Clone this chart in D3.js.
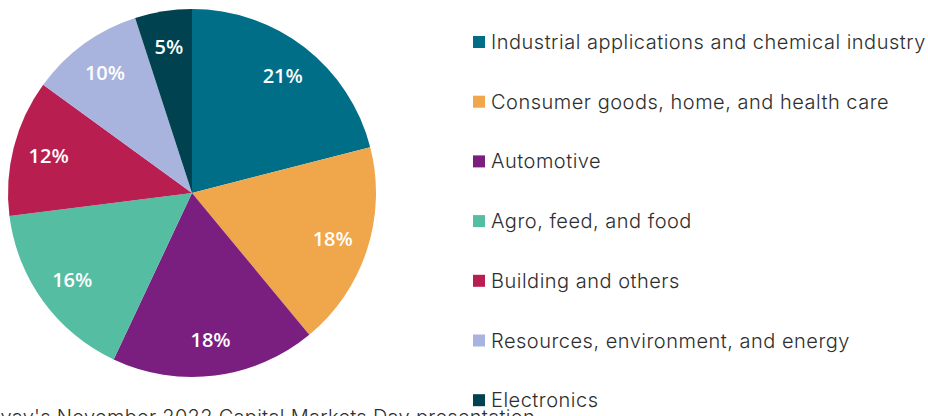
<!DOCTYPE html>
<html>
<head>
<meta charset="utf-8">
<script src="https://cdn.jsdelivr.net/npm/d3@7"></script>
<style>
  html, body { margin: 0; padding: 0; background: #fff; overflow: hidden; }
  svg { display: block; }
</style>
</head>
<body>
<svg id="chart" width="928" height="416"></svg>
<script>
const categories = [
  "Industrial applications and chemical industry",
  "Consumer goods, home, and health care",
  "Automotive",
  "Agro, feed, and food",
  "Building and others",
  "Resources, environment, and energy",
  "Electronics"
];
const values = [21, 18, 18, 16, 12, 10, 5];
const colors = ["#006e87", "#f0a64b", "#7a1f80", "#55bda1", "#b81f50", "#a9b4de", "#00424f"];
const sourceText = "Source: Solvay's November 2022 Capital Markets Day presentation";

const svg = d3.select("#chart");
const cx = 192, cy = 193, R = 184;

const data = categories.map((c, i) => ({ name: c, value: values[i], color: colors[i] }));
const pie = d3.pie().value(d => d.value).sort(null);
const arcs = pie(data);
const arc = d3.arc().innerRadius(0).outerRadius(R);

const g = svg.append("g").attr("transform", `translate(${cx},${cy})`);
g.selectAll("path.slice").data(arcs).join("path")
  .attr("class", "slice")
  .attr("d", arc)
  .attr("fill", d => d.data.color);

const fontLabel = "'Open Sans', 'DejaVu Sans', sans-serif";
g.selectAll("text.lbl").data(arcs).join("text")
  .attr("class", "lbl")
  .attr("transform", d => {
    const a = (d.startAngle + d.endAngle) / 2;
    const r = 148;
    return `translate(${r * Math.sin(a)},${-r * Math.cos(a)})`;
  })
  .attr("text-anchor", "middle")
  .attr("dy", "0.35em")
  .attr("fill", "#ffffff")
  .attr("font-family", fontLabel)
  .attr("font-weight", 600)
  .attr("font-size", 20)
  .text(d => d.data.value + "%");

// Legend
const legendX = 473, legendY0 = 42, legendStep = 59.7;
const leg = svg.append("g");
const items = leg.selectAll("g.item").data(data).join("g")
  .attr("class", "item")
  .attr("transform", (d, i) => `translate(${legendX},${legendY0 + i * legendStep})`);
items.append("rect")
  .attr("x", 0).attr("y", -6).attr("width", 12).attr("height", 12)
  .attr("fill", d => d.color);
items.append("text")
  .attr("x", 18).attr("y", 7)
  .attr("fill", "#2e2e2e")
  .attr("font-family", "Inter, 'Open Sans', sans-serif")
  .attr("font-weight", 300)
  .attr("font-size", 20)
  .attr("letter-spacing", 0.5)
  .text(d => d.name);

// Source (partly clipped)
svg.append("text")
  .attr("x", 535).attr("y", 424)
  .attr("text-anchor", "end")
  .attr("fill", "#2e2e2e")
  .attr("font-family", "Inter, 'Open Sans', sans-serif")
  .attr("font-weight", 300)
  .attr("font-size", 20)
  .attr("letter-spacing", 0.3)
  .text(sourceText);
</script>
</body>
</html>
